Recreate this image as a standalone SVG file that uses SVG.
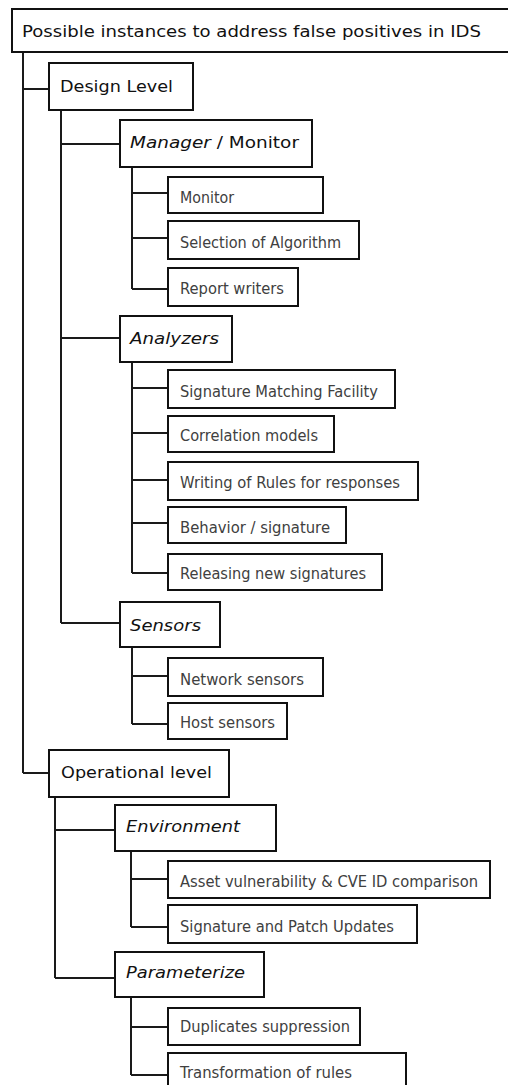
<svg xmlns="http://www.w3.org/2000/svg" width="508" height="1085" viewBox="0 0 508 1085">
<style>
.box{fill:#fff;stroke:#111;stroke-width:2}
.c{stroke:#1a1a1a;stroke-width:2;fill:none}
.t1{font-family:"DejaVu Sans",Verdana,sans-serif;font-size:16.5px;fill:#111}
.t2{font-family:"DejaVu Sans",Verdana,sans-serif;font-size:16px;fill:#404040}
.i{font-style:italic}
</style>
<rect width="508" height="1085" fill="#fff"/>
<g id="connectors">
<path class="c" d="M23 52V773M23 89H49M23 773H49"/>
<path class="c" d="M61 110V623M61 144H120M61 338H120M61 623H120"/>
<path class="c" d="M132 167V289M132 193H168M132 238H168M132 289H168"/>
<path class="c" d="M132 362V573M132 388H168M132 433H168M132 480H168M132 523H168M132 573H168"/>
<path class="c" d="M132 647V724M132 676H168M132 724H168"/>
<path class="c" d="M55 797V978M55 830H115M55 978H115"/>
<path class="c" d="M131 851V927M131 879H168M131 927H168"/>
<path class="c" d="M131 997V1075M131 1027H168M131 1075H168"/>
</g>
<g id="root"><rect class="box" x="12" y="9" width="510" height="43"/><text class="t1" x="22" y="37" textLength="459" lengthAdjust="spacingAndGlyphs">Possible instances to address false positives in IDS</text></g>
<g id="design"><rect class="box" x="49" y="63" width="144" height="47"/><text class="t1" x="60" y="92" textLength="113" lengthAdjust="spacingAndGlyphs">Design Level</text></g>
<g id="manager"><rect class="box" x="120" y="120" width="192" height="47"/><text class="t1" x="130" y="148" textLength="169" lengthAdjust="spacingAndGlyphs"><tspan class="i">Manager</tspan> / Monitor</text></g>
<g id="monitor"><rect class="box" x="168" y="177" width="155" height="36"/><text class="t2" x="180" y="203" textLength="54" lengthAdjust="spacingAndGlyphs">Monitor</text></g>
<g id="selection"><rect class="box" x="168" y="221" width="191" height="38"/><text class="t2" x="180" y="248" textLength="161" lengthAdjust="spacingAndGlyphs">Selection of Algorithm</text></g>
<g id="report"><rect class="box" x="168" y="268" width="130" height="38"/><text class="t2" x="180" y="294" textLength="104" lengthAdjust="spacingAndGlyphs">Report writers</text></g>
<g id="analyzers"><rect class="box" x="120" y="316" width="112" height="46"/><text class="t1 i" x="130" y="344" textLength="89" lengthAdjust="spacingAndGlyphs">Analyzers</text></g>
<g id="sigmatch"><rect class="box" x="168" y="370" width="227" height="38"/><text class="t2" x="180" y="397" textLength="198" lengthAdjust="spacingAndGlyphs">Signature Matching Facility</text></g>
<g id="correlation"><rect class="box" x="168" y="416" width="166" height="36"/><text class="t2" x="180" y="441" textLength="138" lengthAdjust="spacingAndGlyphs">Correlation models</text></g>
<g id="writing"><rect class="box" x="168" y="462" width="250" height="38"/><text class="t2" x="180" y="488" textLength="220" lengthAdjust="spacingAndGlyphs">Writing of Rules for responses</text></g>
<g id="behavior"><rect class="box" x="168" y="507" width="178" height="36"/><text class="t2" x="180" y="533" textLength="150" lengthAdjust="spacingAndGlyphs">Behavior / signature</text></g>
<g id="releasing"><rect class="box" x="168" y="554" width="214" height="36"/><text class="t2" x="180" y="579" textLength="186" lengthAdjust="spacingAndGlyphs">Releasing new signatures</text></g>
<g id="sensors"><rect class="box" x="120" y="602" width="100" height="45"/><text class="t1 i" x="130" y="631" textLength="71" lengthAdjust="spacingAndGlyphs">Sensors</text></g>
<g id="network"><rect class="box" x="168" y="658" width="155" height="38"/><text class="t2" x="180" y="685" textLength="124" lengthAdjust="spacingAndGlyphs">Network sensors</text></g>
<g id="host"><rect class="box" x="168" y="703" width="119" height="36"/><text class="t2" x="180" y="728" textLength="95" lengthAdjust="spacingAndGlyphs">Host sensors</text></g>
<g id="operational"><rect class="box" x="49" y="750" width="180" height="47"/><text class="t1" x="61" y="778" textLength="151" lengthAdjust="spacingAndGlyphs">Operational level</text></g>
<g id="environment"><rect class="box" x="115" y="805" width="161" height="46"/><text class="t1 i" x="126" y="832" textLength="114" lengthAdjust="spacingAndGlyphs">Environment</text></g>
<g id="asset"><rect class="box" x="168" y="861" width="322" height="37"/><text class="t2" x="180" y="887" textLength="298" lengthAdjust="spacingAndGlyphs">Asset vulnerability &amp; CVE ID comparison</text></g>
<g id="sigpatch"><rect class="box" x="168" y="905" width="249" height="38"/><text class="t2" x="180" y="932" textLength="214" lengthAdjust="spacingAndGlyphs">Signature and Patch Updates</text></g>
<g id="parameterize"><rect class="box" x="115" y="952" width="149" height="45"/><text class="t1 i" x="126" y="978" textLength="119" lengthAdjust="spacingAndGlyphs">Parameterize</text></g>
<g id="duplicates"><rect class="box" x="168" y="1008" width="192" height="37"/><text class="t2" x="180" y="1032" textLength="170" lengthAdjust="spacingAndGlyphs">Duplicates suppression</text></g>
<g id="transformation"><rect class="box" x="168" y="1053" width="238" height="45"/><text class="t2" x="180" y="1078" textLength="172" lengthAdjust="spacingAndGlyphs">Transformation of rules</text></g>
</svg>
